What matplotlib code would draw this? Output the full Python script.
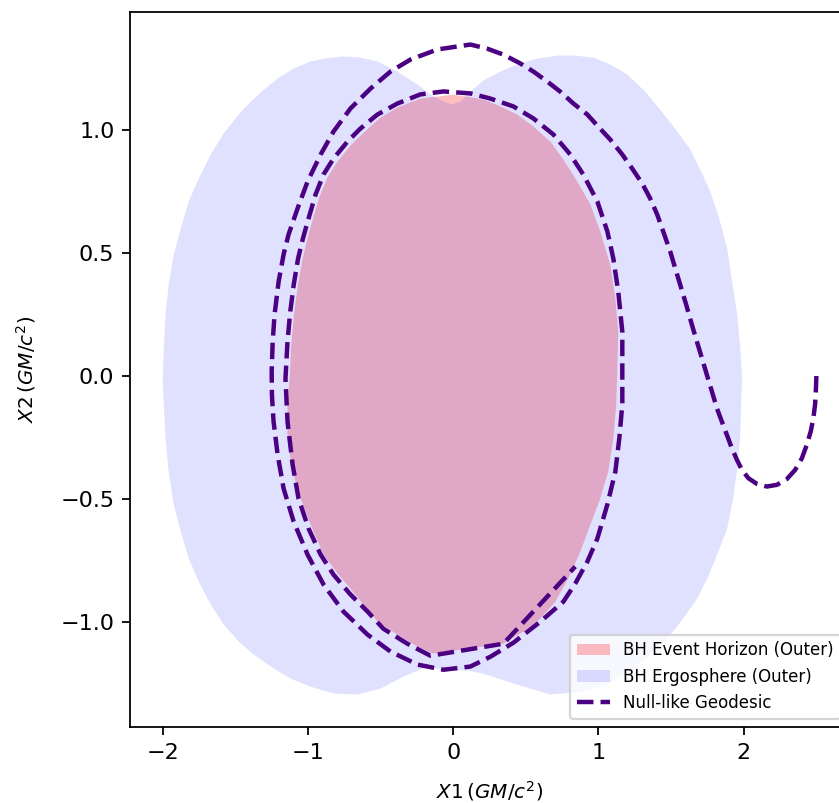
import matplotlib
matplotlib.use("Agg")
import matplotlib.pyplot as plt

# Event horizon outline (outer), X1/X2 in GM/c^2
horizon_x = [0.001, -0.226, -0.384, -0.508, -0.618, -0.707, -0.797, -0.866, -0.920, -0.968,
             -1.005, -1.038, -1.070, -1.095, -1.114, -1.127, -1.141, -1.141, -1.106,
             -1.051, -0.982, -0.893, -0.797, -0.707, -0.618, -0.521, -0.384, -0.246, -0.136,
             -0.040, 0.153, 0.345, 0.483, 0.600, 0.703, 0.792, 0.875, 0.944, 1.012,
             1.067, 1.102, 1.122, 1.129, 1.136, 1.116, 1.081, 1.012, 0.944, 0.854,
             0.758, 0.668, 0.552, 0.441, 0.325, 0.208, 0.098]
horizon_y = [1.146, 1.130, 1.094, 1.049, 0.990, 0.939, 0.873, 0.809, 0.731, 0.637,
             0.556, 0.475, 0.369, 0.259, 0.136, -0.010, -0.116, -0.255, -0.389,
             -0.499, -0.605, -0.727, -0.804, -0.866, -0.931, -1.000, -1.053, -1.102, -1.130,
             -1.122, -1.106, -1.090, -1.041, -0.988, -0.919, -0.825, -0.715, -0.605, -0.499,
             -0.389, -0.255, -0.116, 0.018, 0.181, 0.316, 0.454, 0.589, 0.699, 0.792,
             0.882, 0.955, 1.016, 1.065, 1.098, 1.126, 1.138]

# Ergosphere outline (outer)
ergo_x = [-0.006, -0.067, -0.157, -0.246, -0.384, -0.521, -0.640, -0.755, -0.870, -0.981,
          -1.100, -1.207, -1.300, -1.393, -1.477, -1.580, -1.670, -1.752, -1.821, -1.876,
          -1.924, -1.959, -1.980, -1.993, -2.000, -1.993, -1.980, -1.959, -1.924, -1.876,
          -1.821, -1.752, -1.670, -1.580, -1.477, -1.374, -1.257, -1.120, -0.982, -0.824,
          -0.659, -0.501, -0.343, -0.177, -0.088, 0.001, 0.084, 0.208, 0.441, 0.668,
          0.895, 1.061, 1.219, 1.356, 1.473, 1.583, 1.679, 1.755, 1.817, 1.886,
          1.927, 1.955, 1.975, 1.982, 1.989, 1.975, 1.955, 1.920, 1.886, 1.831,
          1.769, 1.700, 1.631, 1.542, 1.446, 1.322, 1.198, 1.081, 0.964, 0.840,
          0.717, 0.579, 0.441, 0.325, 0.208, 0.118, 0.050]
ergo_y = [1.106, 1.118, 1.147, 1.187, 1.240, 1.281, 1.297, 1.301, 1.295, 1.281,
          1.252, 1.212, 1.168, 1.118, 1.065, 0.988, 0.902, 0.804, 0.711, 0.601,
          0.495, 0.373, 0.251, 0.112, -0.022, -0.116, -0.255, -0.389, -0.523, -0.633,
          -0.743, -0.837, -0.930, -1.012, -1.081, -1.134, -1.183, -1.232, -1.265, -1.293,
          -1.297, -1.273, -1.224, -1.183, -1.196, -1.200, -1.198, -1.212, -1.257, -1.297,
          -1.285, -1.253, -1.204, -1.134, -1.069, -0.988, -0.906, -0.817, -0.727, -0.621,
          -0.499, -0.377, -0.255, -0.116, -0.010, 0.120, 0.251, 0.384, 0.519, 0.642,
          0.752, 0.841, 0.923, 0.996, 1.069, 1.158, 1.228, 1.269, 1.297, 1.305,
          1.305, 1.293, 1.269, 1.240, 1.204, 1.158, 1.118]

# Null-like geodesic path
geo_x = [2.500, 2.496, 2.491, 2.479, 2.461, 2.434, 2.400, 2.354, 2.296, 2.228,
         2.159, 2.090, 2.032, 1.987, 1.953, 1.918, 1.884, 1.849, 1.815, 1.781,
         1.746, 1.712, 1.677, 1.643, 1.604, 1.563, 1.528, 1.494, 1.446, 1.404,
         1.356, 1.301, 1.232, 1.164, 1.081, 0.998, 0.923, 0.827, 0.737, 0.648,
         0.552, 0.462, 0.345, 0.235, 0.118, -0.109, -0.294, -0.432, -0.569, -0.707,
         -0.824, -0.913, -1.003, -1.072, -1.134, -1.168, -1.202, -1.230, -1.243, -1.250,
         -1.248, -1.237, -1.209, -1.168, -1.099,
         -1.003, -0.893, -0.756, -0.590, -0.432, -0.246, -0.067, 0.118, 0.256, 0.414,
         0.600, 0.758, 0.840, 0.923, 0.992, 1.061, 1.116, 1.143, 1.164, 1.164,
         1.164, 1.136, 1.102, 1.061, 0.992, 0.895, 0.806, 0.689, 0.552, 0.414,
         0.256, 0.118, -0.067, -0.226, -0.384, -0.522, -0.639, -0.728, -0.824, -0.893,
         -0.948, -0.996, -1.035, -1.068, -1.098, -1.122, -1.141, -1.155, -1.141, -1.106,
         -1.065, -0.996, -0.913, -0.824, -0.707, -0.590, -0.481, -0.316, -0.157, 0.345, 0.840]
geo_y = [0.000, -0.063, -0.116, -0.172, -0.226, -0.280, -0.335, -0.382, -0.420, -0.443,
         -0.450, -0.439, -0.416, -0.382, -0.341, -0.294, -0.240, -0.185, -0.131, -0.063,
         0.005, 0.073, 0.141, 0.209, 0.290, 0.371, 0.439, 0.507, 0.588, 0.658,
         0.723, 0.784, 0.845, 0.902, 0.963, 1.016, 1.065, 1.110, 1.158, 1.199,
         1.240, 1.273, 1.309, 1.333, 1.350, 1.330, 1.289, 1.240, 1.171, 1.090,
         0.996, 0.902, 0.792, 0.682, 0.576, 0.495, 0.385, 0.251, 0.141, 0.018,
         -0.080, -0.185, -0.320, -0.458, -0.592,
         -0.727, -0.849, -0.959, -1.053, -1.122, -1.175, -1.196, -1.183, -1.143, -1.086,
         -1.000, -0.919, -0.845, -0.756, -0.662, -0.523, -0.389, -0.255, -0.116, 0.018,
         0.181, 0.344, 0.479, 0.589, 0.711, 0.821, 0.902, 0.984, 1.049, 1.098,
         1.130, 1.151, 1.159, 1.147, 1.110, 1.065, 1.008, 0.955, 0.886, 0.821,
         0.739, 0.642, 0.560, 0.479, 0.373, 0.263, 0.141, -0.010, -0.185, -0.360,
         -0.499, -0.621, -0.727, -0.809, -0.890, -0.959, -1.029, -1.090, -1.139, -1.090, -0.776]

fig = plt.figure(figsize=(839 / 160, 803 / 160), dpi=160)
ax = fig.add_axes([0.155, 0.0946, 0.857, 0.8904])

ax.fill(horizon_x, horizon_y, color="red", alpha=0.25, lw=0, label="BH Event Horizon (Outer)")
ax.fill(ergo_x, ergo_y, color="blue", alpha=0.12, lw=0, label="BH Ergosphere (Outer)")
ax.plot(geo_x, geo_y, linestyle="--", color="indigo", lw=2, label="Null-like Geodesic")

ax.set_xlabel(r"$X1\,(GM/c^2)$", fontsize=9, labelpad=7.5)
ax.set_ylabel(r"$X2\,(GM/c^2)$", fontsize=9, labelpad=10)
ax.legend(loc="lower right", fontsize=7.5)

fig.savefig("out.png", dpi=160)
